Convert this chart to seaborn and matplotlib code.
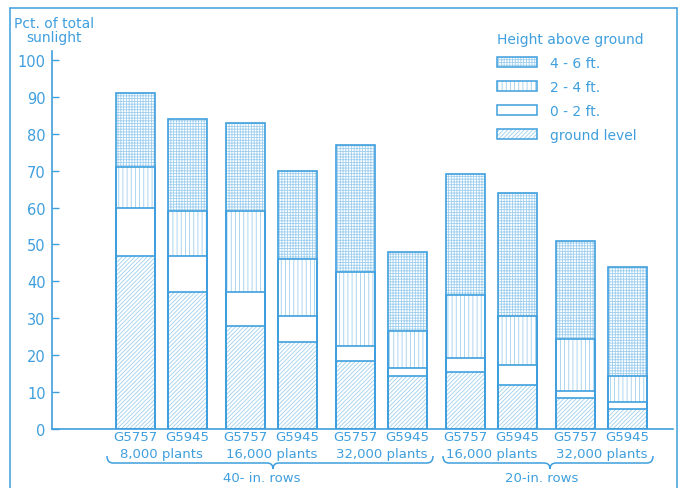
import numpy as np
import pandas as pd
import seaborn as sns
import matplotlib.pyplot as plt
from matplotlib.patches import Patch, PathPatch
from matplotlib.path import Path
from matplotlib.lines import Line2D

# Sunlight reaching each height band, percent of total, per hybrid/planting
hybrids = ["G5757", "G5945"] * 5
populations = ["8,000 plants", "16,000 plants", "32,000 plants",
               "16,000 plants", "32,000 plants"]
row_spacings = ["40- in. rows", "20-in. rows"]
pairs_per_spacing = [3, 2]

ground_level = [47, 37, 28, 23.5, 18.5, 14.3, 15.4, 12, 8.3, 5.4]
ft_0_2 = [13, 10, 9, 7, 4, 2.1, 3.9, 5.4, 2.1, 1.8]
ft_2_4 = [11, 12, 22, 15.5, 20, 10.2, 16.9, 13.1, 14, 7.2]
ft_4_6 = [20, 25, 24, 24, 34.5, 21.4, 32.8, 33.5, 26.6, 29.6]

layer_labels = ["ground level", "0 - 2 ft.", "2 - 4 ft.", "4 - 6 ft."]
y_ticks = list(range(0, 101, 10))

BLUE = "#3f9fde"
HATCH = "#9fcfee"
W, H = 681, 489

sns.set_theme(style="white")
plt.rcParams["font.family"] = ["DejaVu Sans"]
plt.rcParams["hatch.linewidth"] = 0.6

fig = plt.figure(figsize=(W / 100, H / 100), dpi=100)
fig.patch.set_facecolor("white")


def fx(px):
    return px / W


def fy(py):
    return 1 - py / H


ax = fig.add_axes([fx(52), fy(430), fx(673) - fx(52), fy(52) - fy(430)])
ax.set_facecolor("white")

# bars come in hybrid pairs; pairs are spaced a little wider apart
within, pair_step = 1.0, 2.115
xpos = [p * pair_step + k * within for p in range(5) for k in range(2)]

layers = np.array([ground_level, ft_0_2, ft_2_4, ft_4_6], dtype=float)
cum = np.cumsum(layers, axis=0)
hatches = ["////////", None, "||||", "++++++"]

df = pd.DataFrame({"x": xpos, "hybrid": hybrids})
for i in range(4):
    df[f"cum{i}"] = cum[i]

# stacked bars: draw the cumulative heights from the top band downward
for lvl in reversed(range(4)):
    sns.barplot(data=df, x="x", y=f"cum{lvl}", native_scale=True, width=0.75,
                errorbar=None, ax=ax, facecolor="white", edgecolor=HATCH,
                hatch=hatches[lvl], linewidth=0)
for lvl in reversed(range(4)):
    sns.barplot(data=df, x="x", y=f"cum{lvl}", native_scale=True, width=0.75,
                errorbar=None, ax=ax, facecolor="none", edgecolor=BLUE,
                linewidth=1.2)

x0 = -(135.5 - 52) / 52
x1 = (673 - 135.5) / 52
ax.set_xlim(x0, x1)
ax.set_ylim(0, 102.4)
ax.set_xlabel("")
ax.set_ylabel("")
ax.set_xticks([])
ax.set_yticks(y_ticks)
ax.tick_params(axis="y", direction="in", length=5, width=1, color=BLUE,
               labelcolor=BLUE, labelsize=10.5, pad=4.5, left=True)
for s in ["top", "right"]:
    ax.spines[s].set_visible(False)
for s in ["left", "bottom"]:
    ax.spines[s].set_color(BLUE)
    ax.spines[s].set_linewidth(1.2)

fig.text(fx(54), fy(17), "Pct. of total\nsunlight", ha="center", va="top",
         color=BLUE, fontsize=10, linespacing=1.0)

# category labels under the bars
tr = ax.get_xaxis_transform()
for xi, hb in zip(xpos, hybrids):
    ax.text(xi, -8 / 378, hb, transform=tr, ha="center", va="center",
            color=BLUE, fontsize=9.5, clip_on=False)
for p, pop in enumerate(populations):
    xc = p * pair_step + within / 2
    ax.text(xc, -25 / 378, pop, transform=tr, ha="center", va="center",
            color=BLUE, fontsize=9.5, clip_on=False)


def brace(xl, xr, xt, ytop=457, ymid=464, ytip=470, r=6):
    verts = [(xl, ytop), (xl, ymid), (xl + r, ymid),
             (xt - r, ymid), (xt, ymid), (xt, ytip),
             (xt, ymid), (xt + r, ymid),
             (xr - r, ymid), (xr, ymid), (xr, ytop)]
    codes = [Path.MOVETO, Path.CURVE3, Path.CURVE3,
             Path.LINETO, Path.CURVE3, Path.CURVE3,
             Path.CURVE3, Path.CURVE3,
             Path.LINETO, Path.CURVE3, Path.CURVE3]
    verts = [(fx(a), fy(b)) for a, b in verts]
    fig.add_artist(PathPatch(Path(verts, codes), transform=fig.transFigure,
                             fill=False, edgecolor=BLUE, lw=1.1))


brace(107, 433, 273)
brace(443, 653, 550)
fig.text(fx(262), fy(479), row_spacings[0], ha="center", va="center",
         color=BLUE, fontsize=9.5)
fig.text(fx(542), fy(479), row_spacings[1], ha="center", va="center",
         color=BLUE, fontsize=9.5)

# legend: light hatch with darker outline
handles = []
for lvl in reversed(range(4)):
    hp = Patch(facecolor="white", edgecolor=HATCH, hatch=hatches[lvl], lw=0)
    op = Patch(facecolor="none", edgecolor=BLUE, lw=1.1)
    handles.append((hp, op))
leg = ax.legend(handles, list(reversed(layer_labels)), title="Height above ground",
                loc="upper left", bbox_to_anchor=(fx(497), fy(33)),
                bbox_transform=fig.transFigure, frameon=False, fontsize=10,
                title_fontsize=10, handlelength=2.9, handleheight=0.75,
                handletextpad=0.95, labelspacing=0.72, borderpad=0,
                borderaxespad=0, alignment="left")
for t in leg.get_texts():
    t.set_color(BLUE)
leg.get_title().set_color(BLUE)

# outer frame
for (xa, ya), (xb, yb) in [((10, 489), (10, 9)), ((10, 9), (677, 9)),
                            ((677, 9), (677, 489))]:
    fig.add_artist(Line2D([fx(xa), fx(xb)], [fy(ya), fy(yb)],
                          transform=fig.transFigure, color=BLUE, lw=1.1))

fig.savefig("out.png", dpi=100, facecolor="white")
